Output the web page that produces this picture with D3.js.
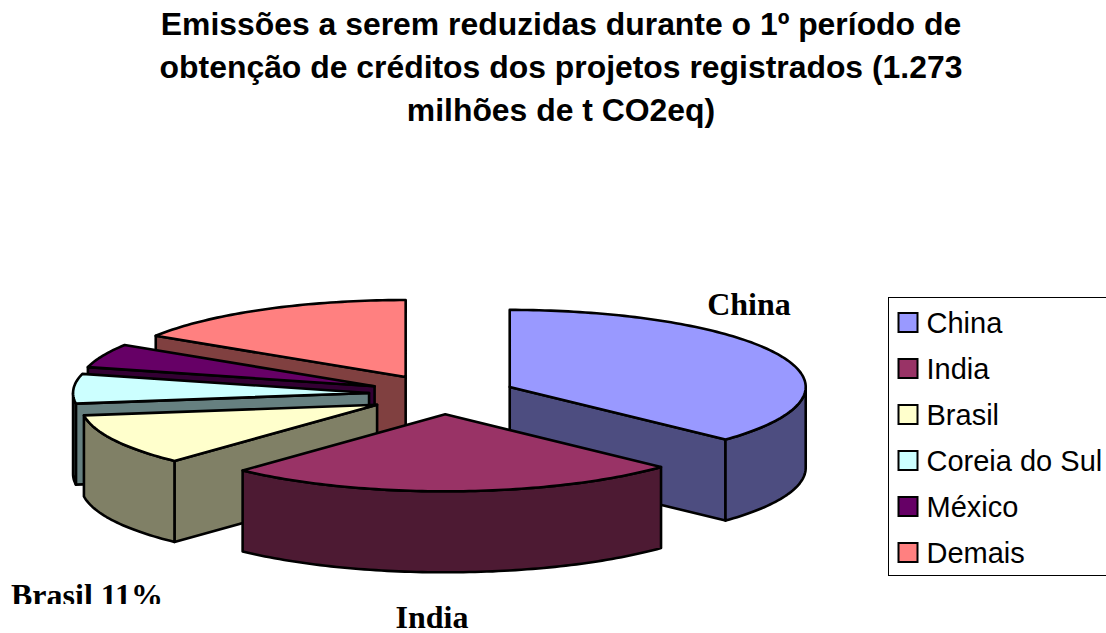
<!DOCTYPE html>
<html><head><meta charset="utf-8">
<script src="https://cdn.jsdelivr.net/npm/d3@7"></script>
<style>html,body{margin:0;padding:0;background:#fff}svg{display:block}</style></head>
<body><div id="c"></div>
<script>
const categories = ["China","India","Brasil","Coreia do Sul","México","Demais"];
const shares = [37, 25, 10.8, 6.2, 5, 16];
const explode = [0.271, 0.28, 0.243, 0.216, 0.216, 0.227];
const explodeDir = [73, 171.5, 231, 270, 294, 336];
const topColors = ["#9999FF","#993366","#FFFFCC","#CCFFFF","#660066","#FF8080"];
const wallColors = ["#4D4D80","#4D1A33","#808066","#668080","#330033","#804040"];
const titleLines = ["Emissões a serem reduzidas durante o 1º período de","obtenção de créditos dos projetos registrados (1.273","milhões de t CO2eq)"];
const dataLabels = [["China",749,315],["India",432,628],["Brasil 11%",87,606]];

const W=1106,H=633, cx=433, cy=393, rx=296, ry=77, depth=81;
const svg=d3.select("#c").append("svg").attr("width",W).attr("height",H);
const sx=d3.scaleLinear().domain([-1,1]).range([cx-rx,cx+rx]);
const sy=d3.scaleLinear().domain([-1,1]).range([cy-ry,cy+ry]);
const line=d3.line();
const arcs=d3.pie().sort(null).value(d=>d)(shares);

const slices=arcs.map((a,i)=>{
  const dir=explodeDir[i]*Math.PI/180, e=explode[i];
  const ox=e*Math.sin(dir), oy=-e*Math.cos(dir);
  const P=(t,z=0)=>[sx(ox+Math.sin(t)),sy(oy-Math.cos(t))+z];
  const apex=z=>[sx(ox),sy(oy)+z];
  return {i,a,P,apex,oy};
});
const order=slices.slice().sort((p,q)=>p.oy-q.oy);
const g=svg.append("g").attr("stroke","#000").attr("stroke-width",2.6).attr("stroke-linejoin","round");
function steps(a,b){const n=Math.max(2,Math.ceil((b-a)/0.02));return d3.range(n+1).map(k=>a+(b-a)*k/n);}
order.forEach(s=>{
  const {a,P,apex,i}=s, t0=a.startAngle, t1=a.endAngle;
  const face=t=>g.append("path").attr("fill",wallColors[i]).attr("d",line([apex(0),P(t),P(t,depth),apex(depth)])+"Z");
  if(Math.sin(t0)<-1e-6) face(t0);
  if(Math.sin(t1)>1e-6) face(t1);
  const lo=Math.max(t0,Math.PI/2), hi=Math.min(t1,3*Math.PI/2);
  if(hi>lo){
    const ts=steps(lo,hi);
    g.append("path").attr("fill",wallColors[i])
     .attr("d",line(ts.map(t=>P(t)).concat(ts.slice().reverse().map(t=>P(t,depth))))+"Z");
  }
  g.append("path").attr("fill",topColors[i])
   .attr("d",line([apex(0)].concat(steps(t0,t1).map(t=>P(t))))+"Z");
});

svg.append("g").attr("font-family","Liberation Sans").attr("font-weight","bold").attr("font-size",31.9)
 .attr("text-anchor","middle").attr("fill","#000")
 .selectAll("text").data(titleLines).join("text")
 .attr("x",561).attr("y",(d,i)=>35+i*43).text(d=>d);

svg.append("defs").append("clipPath").attr("id","clipB").append("rect").attr("x",0).attr("y",0).attr("width",W).attr("height",604);
svg.append("g").attr("font-family","Liberation Serif").attr("font-weight","bold").attr("font-size",32)
 .attr("text-anchor","middle").attr("fill","#000")
 .selectAll("text").data(dataLabels).join("text")
 .attr("x",d=>d[1]).attr("y",d=>d[2])
 .attr("clip-path",d=>d[0].startsWith("Brasil")?"url(#clipB)":null).text(d=>d[0]);

const leg=svg.append("g");
leg.append("rect").attr("x",888.5).attr("y",297.5).attr("width",220).attr("height",278).attr("fill","#fff").attr("stroke","#000").attr("stroke-width",1);
const ly=d3.scalePoint().domain(categories).range([323,553]);
categories.forEach((c,i)=>{
  leg.append("rect").attr("x",898.5).attr("y",ly(c)-10).attr("width",19).attr("height",19)
    .attr("fill",topColors[i]).attr("stroke","#000").attr("stroke-width",2);
  leg.append("text").attr("x",926.5).attr("y",ly(c)+10).attr("font-family","Liberation Sans").attr("font-size",29).attr("fill","#000").text(c);
});
</script></body></html>
